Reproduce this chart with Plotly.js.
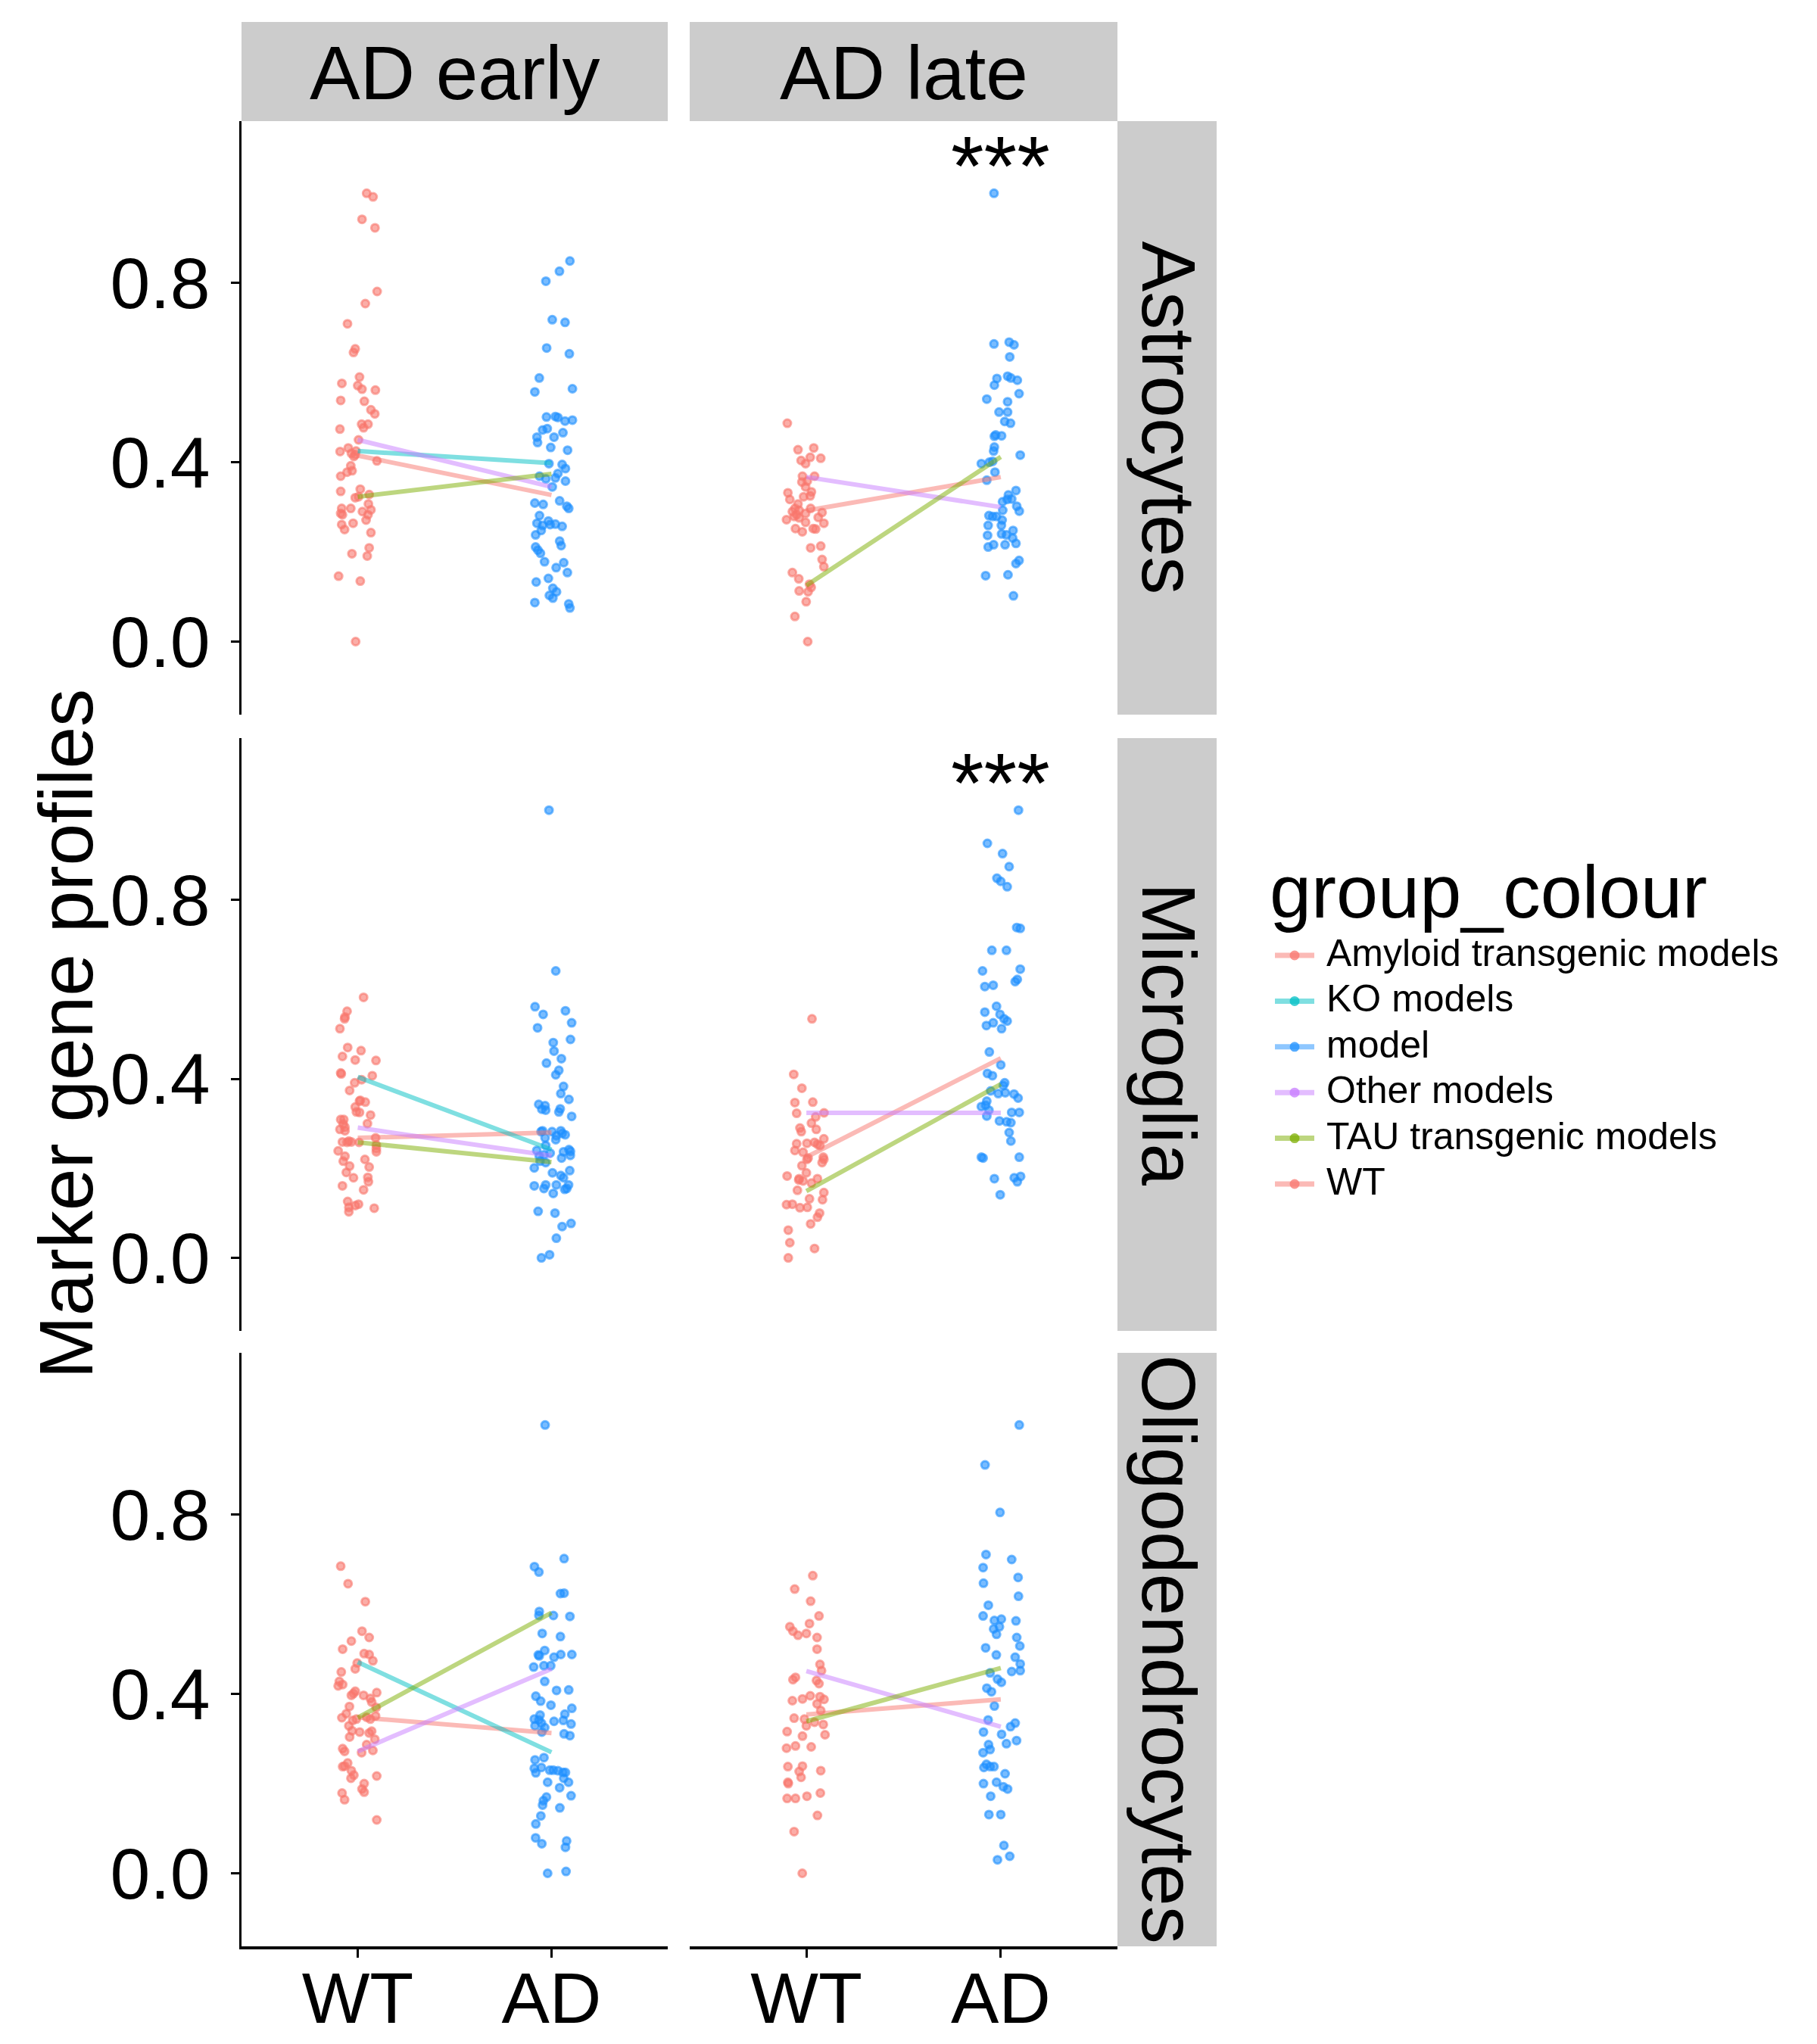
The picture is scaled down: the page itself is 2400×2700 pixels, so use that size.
<!DOCTYPE html>
<html>
<head>
<meta charset="utf-8">
<script src="https://cdn.plot.ly/plotly-3.0.1.min.js"></script>
<style>html,body{margin:0;padding:0;background:#fff}</style>
</head>
<body>
<div id="myDiv" style="width:2400px;height:2700px"></div>
<script>
// facets
var stages = ['AD early', 'AD late'];
var cellTypes = ['Astrocytes', 'Microglia', 'Oligodendrocytes'];
var conditions = ['WT', 'AD'];
var groupNames = ['Amyloid transgenic models', 'KO models', 'Other models', 'TAU transgenic models'];
var significance = ['', '***', '', '***', '', ''];
var legendNames = ['Amyloid transgenic models', 'KO models', 'model', 'Other models', 'TAU transgenic models', 'WT'];

// marker gene profile values (jitter offsets, in category units)
var astroEarlyWT = [1.000,0.992,0.942,0.923,0.781,0.754,0.709,0.653,0.645,0.590,0.576,0.571,0.563,0.561,0.538,0.536,0.517,0.508,0.474,0.485,0.485,0.477,0.450,0.424,0.432,0.425,0.420,0.413,0.417,0.403,0.392,0.378,0.381,0.369,0.335,0.340,0.328,0.321,0.323,0.307,0.297,0.297,0.294,0.290,0.286,0.283,0.283,0.271,0.261,0.264,0.250,0.243,0.209,0.191,0.196,0.146,0.135,0.000];
var astroEarlyWTJit = [0.046,0.079,0.022,0.089,0.100,0.039,-0.053,-0.013,-0.022,0.009,-0.082,0.000,0.022,0.091,-0.088,0.034,0.068,0.088,-0.092,0.020,0.053,0.030,0.004,-0.091,-0.049,-0.009,-0.033,-0.020,-0.013,0.099,-0.036,-0.055,-0.029,-0.088,-0.088,0.013,0.059,-0.013,0.004,0.055,-0.083,-0.036,0.068,0.024,-0.088,-0.079,0.053,0.043,-0.083,-0.024,-0.068,0.068,0.059,0.049,-0.030,-0.099,0.013,-0.011];
var astroEarlyAD = [0.849,0.826,0.804,0.718,0.712,0.655,0.642,0.588,0.557,0.564,0.501,0.502,0.500,0.492,0.494,0.472,0.475,0.466,0.456,0.444,0.456,0.433,0.427,0.397,0.395,0.386,0.375,0.369,0.363,0.365,0.345,0.358,0.309,0.306,0.314,0.302,0.297,0.281,0.264,0.259,0.269,0.261,0.262,0.257,0.248,0.238,0.224,0.214,0.211,0.204,0.197,0.178,0.176,0.165,0.154,0.141,0.133,0.119,0.111,0.103,0.097,0.087,0.084,0.075];
var astroEarlyADJit = [0.095,0.041,-0.029,0.004,0.070,-0.025,0.092,-0.063,-0.086,0.108,-0.026,0.020,0.033,0.070,0.108,-0.046,-0.022,0.059,-0.075,-0.072,0.013,-0.004,0.083,-0.013,0.055,0.072,0.033,-0.062,-0.029,0.020,0.004,0.072,-0.086,-0.043,0.042,0.079,0.089,-0.062,-0.075,-0.046,-0.016,-0.007,0.020,0.055,-0.053,-0.082,0.042,0.050,-0.082,-0.070,-0.057,-0.036,0.063,0.024,0.082,-0.016,-0.079,0.007,0.026,-0.011,0.007,-0.086,0.089,0.095];

var astroLateWT = [0.487,0.428,0.432,0.404,0.411,0.409,0.397,0.369,0.369,0.356,0.358,0.345,0.334,0.332,0.325,0.323,0.317,0.307,0.297,0.297,0.290,0.293,0.283,0.286,0.288,0.279,0.277,0.272,0.276,0.266,0.264,0.252,0.245,0.252,0.251,0.209,0.213,0.183,0.167,0.154,0.140,0.128,0.121,0.113,0.111,0.089,0.056,0.000];
var astroLateWTJit = [-0.098,-0.043,0.038,-0.027,0.020,0.074,-0.004,-0.020,0.042,-0.023,0.005,-0.004,0.026,-0.095,0.020,-0.014,-0.085,-0.043,-0.059,0.022,-0.072,-0.037,-0.050,-0.004,0.081,-0.063,0.061,-0.102,-0.037,-0.004,0.090,-0.056,-0.021,0.035,0.048,0.022,0.074,0.081,0.090,-0.072,-0.039,0.016,0.025,-0.037,0.009,-0.001,-0.059,0.007];
var astroLateAD = [1.000,0.664,0.668,0.662,0.635,0.587,0.592,0.588,0.583,0.572,0.553,0.541,0.535,0.512,0.512,0.491,0.487,0.461,0.459,0.458,0.434,0.425,0.416,0.397,0.400,0.402,0.378,0.360,0.337,0.327,0.318,0.317,0.312,0.302,0.291,0.293,0.281,0.279,0.279,0.271,0.259,0.259,0.248,0.240,0.238,0.231,0.237,0.219,0.216,0.216,0.211,0.181,0.174,0.147,0.149,0.102];
var astroLateADJit = [-0.035,-0.035,0.043,0.068,0.046,-0.020,0.035,0.052,0.085,-0.033,0.094,-0.072,0.035,-0.009,0.035,0.020,0.050,-0.026,0.004,-0.033,-0.033,-0.037,0.100,-0.100,-0.059,-0.042,-0.030,-0.072,0.078,0.039,0.056,0.033,0.009,0.082,0.095,0.010,-0.061,-0.042,-0.022,0.007,-0.065,0.003,0.063,0.004,0.029,0.061,-0.068,0.078,0.022,-0.037,-0.065,0.094,0.078,-0.078,0.037,0.065];

var microEarlyWT = [0.582,0.551,0.538,0.534,0.512,0.470,0.463,0.450,0.442,0.441,0.413,0.411,0.407,0.398,0.391,0.374,0.352,0.348,0.350,0.337,0.326,0.325,0.319,0.309,0.309,0.299,0.300,0.292,0.287,0.284,0.268,0.259,0.261,0.259,0.258,0.258,0.252,0.244,0.239,0.237,0.227,0.220,0.216,0.205,0.203,0.191,0.179,0.180,0.170,0.161,0.152,0.126,0.120,0.113,0.117,0.111,0.103];
var microEarlyWTJit = [0.030,-0.055,-0.066,-0.068,-0.092,-0.052,0.017,-0.079,-0.013,0.094,-0.088,-0.085,0.075,0.020,-0.016,-0.042,0.013,0.039,0.009,-0.013,-0.007,0.009,0.066,-0.088,-0.072,-0.075,0.050,-0.066,-0.092,-0.066,0.092,-0.079,-0.046,-0.033,0.007,-0.055,0.096,0.096,-0.101,0.096,-0.066,0.037,-0.075,-0.042,0.059,-0.059,-0.022,0.052,0.055,-0.079,0.030,-0.052,0.004,-0.046,-0.013,0.085,-0.046];
var microEarlyAD = [1.000,0.641,0.561,0.544,0.552,0.525,0.514,0.488,0.481,0.462,0.445,0.435,0.419,0.409,0.383,0.367,0.354,0.343,0.340,0.332,0.330,0.333,0.326,0.316,0.284,0.282,0.282,0.284,0.273,0.275,0.278,0.268,0.264,0.251,0.240,0.242,0.238,0.237,0.227,0.230,0.234,0.223,0.229,0.216,0.213,0.201,0.195,0.190,0.184,0.179,0.161,0.163,0.155,0.163,0.144,0.163,0.153,0.155,0.104,0.100,0.077,0.070,0.044,0.007,0.000];
var microEarlyADJit = [-0.013,0.022,-0.085,-0.043,0.072,0.104,-0.072,0.098,0.009,0.013,0.051,-0.026,0.038,0.022,0.062,0.048,0.090,-0.066,-0.033,-0.050,-0.030,0.045,0.038,0.104,-0.046,-0.054,0.003,0.048,0.025,0.071,0.055,-0.033,0.022,-0.030,-0.076,0.090,0.098,0.062,-0.063,-0.039,-0.007,0.052,0.097,-0.059,-0.030,-0.089,0.094,0.005,0.048,0.062,-0.089,-0.030,-0.039,0.025,0.009,0.088,0.068,0.079,-0.069,0.018,0.101,0.055,0.025,-0.010,-0.052];

var microLateWT = [0.534,0.410,0.379,0.347,0.348,0.323,0.324,0.315,0.301,0.290,0.282,0.287,0.266,0.255,0.256,0.258,0.254,0.251,0.240,0.236,0.223,0.220,0.225,0.220,0.213,0.206,0.190,0.183,0.177,0.174,0.172,0.177,0.167,0.151,0.146,0.132,0.130,0.119,0.120,0.112,0.113,0.100,0.091,0.076,0.062,0.034,0.021,0.000];
var microLateWTJit = [0.029,-0.065,-0.023,-0.059,0.033,-0.050,0.091,0.048,0.026,-0.033,-0.026,0.051,0.090,-0.050,0.003,0.042,0.057,0.070,-0.059,-0.017,0.009,0.003,0.087,0.090,0.081,-0.023,0.000,-0.099,-0.037,-0.039,-0.017,0.057,0.026,-0.046,0.090,0.016,0.083,-0.102,-0.072,-0.033,0.005,0.068,0.057,0.022,-0.093,-0.085,0.042,-0.093];
var microLateAD = [1.000,0.926,0.903,0.874,0.848,0.841,0.829,0.738,0.736,0.687,0.687,0.641,0.645,0.606,0.609,0.617,0.622,0.562,0.549,0.544,0.534,0.529,0.525,0.519,0.512,0.460,0.431,0.412,0.407,0.391,0.385,0.373,0.367,0.369,0.366,0.357,0.350,0.338,0.341,0.330,0.325,0.325,0.317,0.306,0.304,0.302,0.280,0.261,0.225,0.223,0.225,0.177,0.179,0.182,0.170,0.141];
var microLateADJit = [0.091,-0.069,0.009,0.043,-0.020,0.000,0.033,0.082,0.100,-0.046,0.029,-0.094,0.100,-0.082,-0.039,0.074,0.085,-0.022,-0.082,-0.004,0.017,0.033,-0.039,-0.074,0.004,-0.059,0.000,-0.069,-0.043,0.020,0.013,-0.052,-0.013,0.023,0.068,0.089,-0.072,-0.100,-0.078,-0.061,0.056,0.095,-0.072,-0.007,0.030,0.052,0.043,0.052,-0.100,-0.091,0.095,-0.033,0.069,0.102,0.085,-0.003];

var oligoEarlyWT = [0.685,0.646,0.606,0.540,0.526,0.518,0.500,0.490,0.488,0.474,0.469,0.456,0.449,0.428,0.421,0.418,0.406,0.401,0.397,0.397,0.403,0.390,0.382,0.372,0.370,0.356,0.347,0.341,0.344,0.348,0.344,0.351,0.329,0.318,0.315,0.313,0.317,0.304,0.299,0.287,0.278,0.272,0.269,0.274,0.246,0.238,0.239,0.229,0.219,0.212,0.217,0.200,0.188,0.181,0.179,0.164,0.119];
var oligoEarlyWTJit = [-0.088,-0.050,0.039,0.022,0.059,-0.033,-0.078,0.033,0.059,0.078,-0.003,-0.013,-0.085,-0.095,-0.078,-0.101,-0.013,-0.022,-0.033,0.030,0.098,0.065,0.072,-0.043,0.095,-0.059,-0.082,-0.026,-0.007,0.046,0.065,0.092,-0.046,-0.029,0.010,0.059,0.072,-0.042,0.088,0.046,-0.078,-0.068,0.020,0.078,-0.052,-0.078,-0.068,-0.033,-0.020,-0.035,0.098,0.033,0.022,0.033,-0.081,-0.068,0.098];
var oligoEarlyAD = [1.000,0.702,0.684,0.672,0.624,0.625,0.584,0.575,0.575,0.573,0.535,0.528,0.497,0.487,0.485,0.482,0.488,0.488,0.460,0.463,0.463,0.428,0.408,0.409,0.395,0.384,0.375,0.368,0.353,0.355,0.344,0.342,0.339,0.341,0.335,0.329,0.325,0.333,0.315,0.311,0.307,0.253,0.258,0.234,0.236,0.224,0.230,0.230,0.229,0.225,0.225,0.212,0.203,0.203,0.191,0.173,0.170,0.162,0.152,0.146,0.128,0.110,0.079,0.066,0.072,0.058,0.000,0.004];
var oligoEarlyADJit = [-0.033,0.065,-0.088,-0.065,0.046,0.065,-0.063,-0.065,0.010,0.095,-0.048,0.046,-0.035,-0.068,-0.063,0.013,0.048,0.105,-0.092,-0.039,-0.004,-0.035,0.026,0.089,-0.081,-0.056,-0.003,0.105,-0.059,0.069,-0.089,-0.065,0.013,0.061,-0.052,-0.085,-0.035,0.101,-0.050,0.065,0.095,-0.085,-0.039,-0.089,-0.052,-0.081,-0.009,0.009,0.033,0.059,0.072,0.063,0.088,-0.020,0.042,0.101,-0.026,-0.042,-0.046,0.043,-0.055,-0.081,-0.082,-0.050,0.078,0.072,-0.020,0.075];

var oligoLateWT = [0.664,0.634,0.607,0.574,0.557,0.550,0.540,0.531,0.535,0.526,0.500,0.466,0.452,0.437,0.432,0.430,0.423,0.396,0.389,0.394,0.388,0.385,0.378,0.363,0.346,0.344,0.329,0.337,0.332,0.316,0.306,0.309,0.279,0.284,0.282,0.238,0.239,0.227,0.214,0.229,0.203,0.200,0.167,0.167,0.172,0.179,0.129,0.093,0.000];
var oligoLateWTJit = [0.033,-0.060,0.022,0.065,0.016,-0.085,-0.069,-0.043,0.000,0.055,0.055,0.070,0.078,-0.056,-0.069,0.052,0.065,0.020,-0.020,0.070,0.091,-0.072,0.055,0.074,-0.063,-0.010,0.000,0.042,0.087,-0.099,-0.020,0.096,-0.102,-0.056,0.025,-0.095,-0.020,-0.037,-0.027,0.074,-0.095,-0.093,-0.099,-0.056,0.003,0.072,0.057,-0.063,-0.021];
var oligoLateAD = [1.000,0.911,0.805,0.711,0.700,0.682,0.660,0.647,0.618,0.598,0.574,0.564,0.567,0.563,0.545,0.550,0.533,0.526,0.507,0.503,0.487,0.482,0.467,0.452,0.450,0.447,0.433,0.426,0.413,0.405,0.373,0.342,0.335,0.327,0.315,0.310,0.296,0.289,0.287,0.276,0.269,0.243,0.236,0.238,0.238,0.222,0.200,0.203,0.193,0.188,0.172,0.131,0.131,0.062,0.038,0.030];
var oligoLateADJit = [0.095,-0.081,-0.004,-0.076,0.056,-0.091,0.089,-0.089,0.091,-0.064,-0.091,-0.033,0.003,0.078,-0.037,-0.007,-0.022,0.082,0.098,-0.078,-0.023,0.074,0.100,0.100,0.056,-0.055,-0.017,0.003,-0.072,-0.048,-0.033,-0.065,0.074,0.050,-0.089,0.004,0.081,0.029,-0.063,-0.055,-0.091,-0.074,-0.087,-0.055,-0.035,0.022,-0.089,-0.022,0.013,0.035,-0.052,-0.061,0.000,0.016,0.046,-0.017];

// group means (Amyloid, KO, Other, TAU), WT then AD
var astroEarlyMeanWT = [0.415, 0.425, 0.450, 0.323];
var astroEarlyMeanAD = [0.327, 0.398, 0.345, 0.374];
var astroLateMeanWT = [0.292, null, 0.367, 0.125];
var astroLateMeanAD = [0.367, null, 0.300, 0.412];
var microEarlyMeanWT = [0.268, 0.404, 0.291, 0.258];
var microEarlyMeanAD = [0.280, 0.242, 0.228, 0.214];
var microLateMeanWT = [0.225, null, 0.324, 0.149];
var microLateMeanAD = [0.446, null, 0.324, 0.388];
var oligoEarlyMeanWT = [0.348, 0.471, 0.272, 0.347];
var oligoEarlyMeanAD = [0.313, 0.270, 0.456, 0.581];
var oligoLateMeanWT = [0.354, null, 0.451, 0.339];
var oligoLateMeanAD = [0.388, null, 0.327, 0.458];

var panels = [
  [astroEarlyWT, astroEarlyWTJit, astroEarlyAD, astroEarlyADJit, astroEarlyMeanWT, astroEarlyMeanAD],
  [astroLateWT, astroLateWTJit, astroLateAD, astroLateADJit, astroLateMeanWT, astroLateMeanAD],
  [microEarlyWT, microEarlyWTJit, microEarlyAD, microEarlyADJit, microEarlyMeanWT, microEarlyMeanAD],
  [microLateWT, microLateWTJit, microLateAD, microLateADJit, microLateMeanWT, microLateMeanAD],
  [oligoEarlyWT, oligoEarlyWTJit, oligoEarlyAD, oligoEarlyADJit, oligoEarlyMeanWT, oligoEarlyMeanAD],
  [oligoLateWT, oligoLateWTJit, oligoLateAD, oligoLateADJit, oligoLateMeanWT, oligoLateMeanAD]
];

var FONT = 'Liberation Sans, Arial, sans-serif';
var wtRGB = '248,118,109', modelRGB = '30,144,255';
var groupRGB = ['248,118,109', '0,191,196', '199,124,255', '124,174,0'];
var legendRGB = [groupRGB[0], groupRGB[1], modelRGB, groupRGB[2], groupRGB[3], wtRGB];

function pts(rgb) {
  return {color: 'rgba(' + rgb + ',0.6)', size: 10, line: {color: 'rgba(' + rgb + ',0.6)', width: 3}};
}

var data = [];
panels.forEach(function(p, i) {
  var xa = i === 0 ? 'x' : 'x' + (i + 1), ya = i === 0 ? 'y' : 'y' + (i + 1);
  data.push({type: 'scatter', mode: 'markers', xaxis: xa, yaxis: ya, name: 'WT',
    x: p[1].map(function(j) { return 1 + j; }), y: p[0], marker: pts(wtRGB)});
  data.push({type: 'scatter', mode: 'markers', xaxis: xa, yaxis: ya, name: 'model',
    x: p[3].map(function(j) { return 2 + j; }), y: p[2], marker: pts(modelRGB)});
  groupNames.forEach(function(g, k) {
    if (p[4][k] === null) return;
    data.push({type: 'scatter', mode: 'lines', xaxis: xa, yaxis: ya, name: g,
      x: [1, 2], y: [p[4][k], p[5][k]],
      line: {color: 'rgba(' + groupRGB[k] + ',0.5)', width: 6}});
  });
});

var W = 2400, H = 2700;
var colX = [[319, 882], [911, 1476]];
var rowY = [[160, 944], [975, 1758], [1787, 2571]];
var stripRight = 1607;
function px(v) { return v / W; }
function py(v) { return 1 - v / H; }

var layout = {
  width: W, height: H,
  margin: {l: 0, r: 0, t: 0, b: 0},
  paper_bgcolor: '#fff', plot_bgcolor: '#fff',
  font: {family: FONT, color: '#000'},
  showlegend: false,
  shapes: [], annotations: []
};

panels.forEach(function(p, i) {
  var r = Math.floor(i / 2), c = i % 2;
  var sx = i === 0 ? '' : (i + 1);
  var bottom = r === 2, left = c === 0;
  layout['xaxis' + sx] = {
    domain: [px(colX[c][0]), px(colX[c][1])], anchor: 'y' + sx,
    range: [0.4, 2.6], tickvals: [1, 2], ticktext: conditions,
    showticklabels: bottom, showline: bottom, ticks: bottom ? 'outside' : '',
    ticklen: 11, tickwidth: 3, linewidth: 3.5, linecolor: '#000', tickcolor: '#000',
    tickfont: {size: 95, family: FONT, color: '#000'}, ticklabelstandoff: -28,
    showgrid: false, zeroline: false, fixedrange: true
  };
  layout['yaxis' + sx] = {
    domain: [py(rowY[r][1]), py(rowY[r][0])], anchor: 'x' + sx,
    range: [-0.163, 1.161], tickvals: [0, 0.4, 0.8], ticktext: ['0.0', '0.4', '0.8'],
    showticklabels: left, showline: left, ticks: left ? 'outside' : '',
    ticklen: 11, tickwidth: 3, linewidth: 3.5, linecolor: '#000', tickcolor: '#000',
    tickfont: {size: 95, family: FONT, color: '#000'}, ticklabelstandoff: 8,
    showgrid: false, zeroline: false, fixedrange: true
  };
  if (significance[i]) {
    layout.annotations.push({xref: 'x' + sx, yref: 'y' + sx, x: 2, y: 1.06,
      text: significance[i], showarrow: false, yanchor: 'middle',
      font: {size: 112, family: FONT, color: '#000'}});
  }
});

// strips
stages.forEach(function(s, c) {
  layout.shapes.push({type: 'rect', xref: 'paper', yref: 'paper', layer: 'below',
    x0: px(colX[c][0]), x1: px(colX[c][1]), y0: py(rowY[0][0]), y1: py(29),
    fillcolor: '#cccccc', line: {width: 0}});
  layout.annotations.push({xref: 'paper', yref: 'paper', showarrow: false,
    x: px((colX[c][0] + colX[c][1]) / 2), y: py(96), xanchor: 'center', yanchor: 'middle',
    text: s, font: {size: 100, family: FONT, color: '#000'}});
});
cellTypes.forEach(function(s, r) {
  layout.shapes.push({type: 'rect', xref: 'paper', yref: 'paper', layer: 'below',
    x0: px(colX[1][1]), x1: px(stripRight), y0: py(rowY[r][1]), y1: py(rowY[r][0]),
    fillcolor: '#cccccc', line: {width: 0}});
  layout.annotations.push({xref: 'paper', yref: 'paper', showarrow: false,
    x: px((colX[1][1] + stripRight) / 2 + 2), y: py((rowY[r][0] + rowY[r][1]) / 2),
    xanchor: 'center', yanchor: 'middle',
    textangle: 90, text: s, font: {size: 100, family: FONT, color: '#000'}});
});

// y axis title
layout.annotations.push({xref: 'paper', yref: 'paper', showarrow: false,
  x: px(86), y: py((rowY[0][0] + rowY[2][1]) / 2), xanchor: 'center', yanchor: 'middle', textangle: -90,
  text: 'Marker gene profiles', font: {size: 100, family: FONT, color: '#000'}});

// legend (title, keys with line and dot, labels)
var legLeft = 1679, legTop = 1262, legStep = 60.4;
layout.annotations.push({xref: 'paper', yref: 'paper', showarrow: false,
  x: px(legLeft - 4), y: py(1177), xanchor: 'left', yanchor: 'middle',
  text: 'group_colour', font: {size: 99, family: FONT, color: '#000'}});
legendNames.forEach(function(n, k) {
  var yc = legTop + k * legStep;
  layout.shapes.push({type: 'line', xref: 'paper', yref: 'paper',
    x0: px(legLeft + 5), x1: px(legLeft + 57), y0: py(yc), y1: py(yc),
    line: {color: 'rgba(' + legendRGB[k] + ',0.5)', width: 7}});
  layout.shapes.push({type: 'circle', xref: 'paper', yref: 'paper',
    x0: px(legLeft + 24.5), x1: px(legLeft + 37.5), y0: py(yc + 6.5), y1: py(yc - 6.5),
    fillcolor: 'rgba(' + legendRGB[k] + ',0.75)', line: {width: 0}});
  layout.annotations.push({xref: 'paper', yref: 'paper', showarrow: false,
    x: px(legLeft + 71), y: py(yc - 3), xanchor: 'left', yanchor: 'middle',
    text: n, font: {size: 50, family: FONT, color: '#000'}});
});

Plotly.newPlot('myDiv', data, layout, {displayModeBar: false, staticPlot: true});
</script>
</body>
</html>
